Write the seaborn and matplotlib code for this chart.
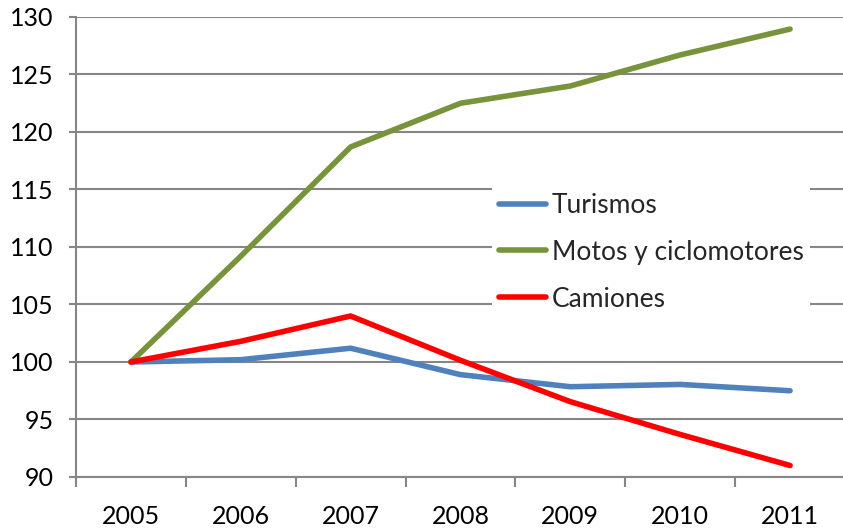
import numpy as np
import pandas as pd
import matplotlib
matplotlib.use("Agg")
import matplotlib.pyplot as plt
import seaborn as sns

years = ["2005", "2006", "2007", "2008", "2009", "2010", "2011"]
turismos = [100.0, 100.2, 101.2, 98.9, 97.85, 98.05, 97.5]
motos = [100.0, 109.2, 118.7, 122.5, 124.0, 126.7, 128.95]
camiones = [100.0, 101.8, 104.0, 100.15, 96.55, 93.7, 91.0]
series_names = ["Turismos", "Motos y ciclomotores", "Camiones"]
colors = ["#4F81BD", "#77933C", "#FF0000"]

sns.set_theme(style="white")
plt.rcParams['font.family'] = ['Lato', 'DejaVu Sans']

rows = []
for name, vals in zip(series_names, [turismos, motos, camiones]):
    for i, (y, v) in enumerate(zip(years, vals)):
        rows.append({"idx": i, "year": y, "value": v, "serie": name})
df = pd.DataFrame(rows)

fig = plt.figure(figsize=(8.43, 5.29), dpi=100)
ax = fig.add_axes([76/843, 52/529, (845-76)/843, (477-17)/529])

sns.lineplot(data=df, x="idx", y="value", hue="serie", hue_order=series_names,
             palette=colors, linewidth=4, ax=ax, sort=False,
             solid_capstyle="round", solid_joinstyle="round")

ax.set_xlim(-0.5, 6.5)
ax.set_ylim(90, 130)
ax.set_yticks(np.arange(90, 131, 5))
ax.set_xticks(range(len(years)))
ax.set_xticklabels(years)
ax.set_xticks(np.arange(-0.5, 6.6, 1.0), minor=True)
ax.set_xlabel("")
ax.set_ylabel("")

grid_c = "#868686"
ax.yaxis.grid(True, color=grid_c, linewidth=1.5)
ax.xaxis.grid(False)
ax.set_axisbelow(True)
for s in ["top", "right"]:
    ax.spines[s].set_visible(False)
for s in ["left", "bottom"]:
    ax.spines[s].set_color(grid_c)
    ax.spines[s].set_linewidth(1.5)

ax.tick_params(axis="y", which="major", length=5, width=1.5, color=grid_c,
               pad=11, labelsize=18, labelcolor="black", left=True)
ax.tick_params(axis="x", which="major", length=0, pad=20, labelsize=18,
               labelcolor="black")
ax.tick_params(axis="x", which="minor", length=7, width=1.5, color=grid_c,
               bottom=True)

leg = ax.legend(loc="upper left", bbox_to_anchor=(479/843, 1-173/529),
                bbox_transform=fig.transFigure, fontsize=19,
                frameon=True, framealpha=1, facecolor="white", edgecolor="none",
                handlelength=1.8, handletextpad=0.2, labelspacing=0.83,
                borderpad=0.25, fancybox=False)
for line in leg.get_lines():
    line.set_linewidth(4)

fig.savefig("out.png", dpi=100)
